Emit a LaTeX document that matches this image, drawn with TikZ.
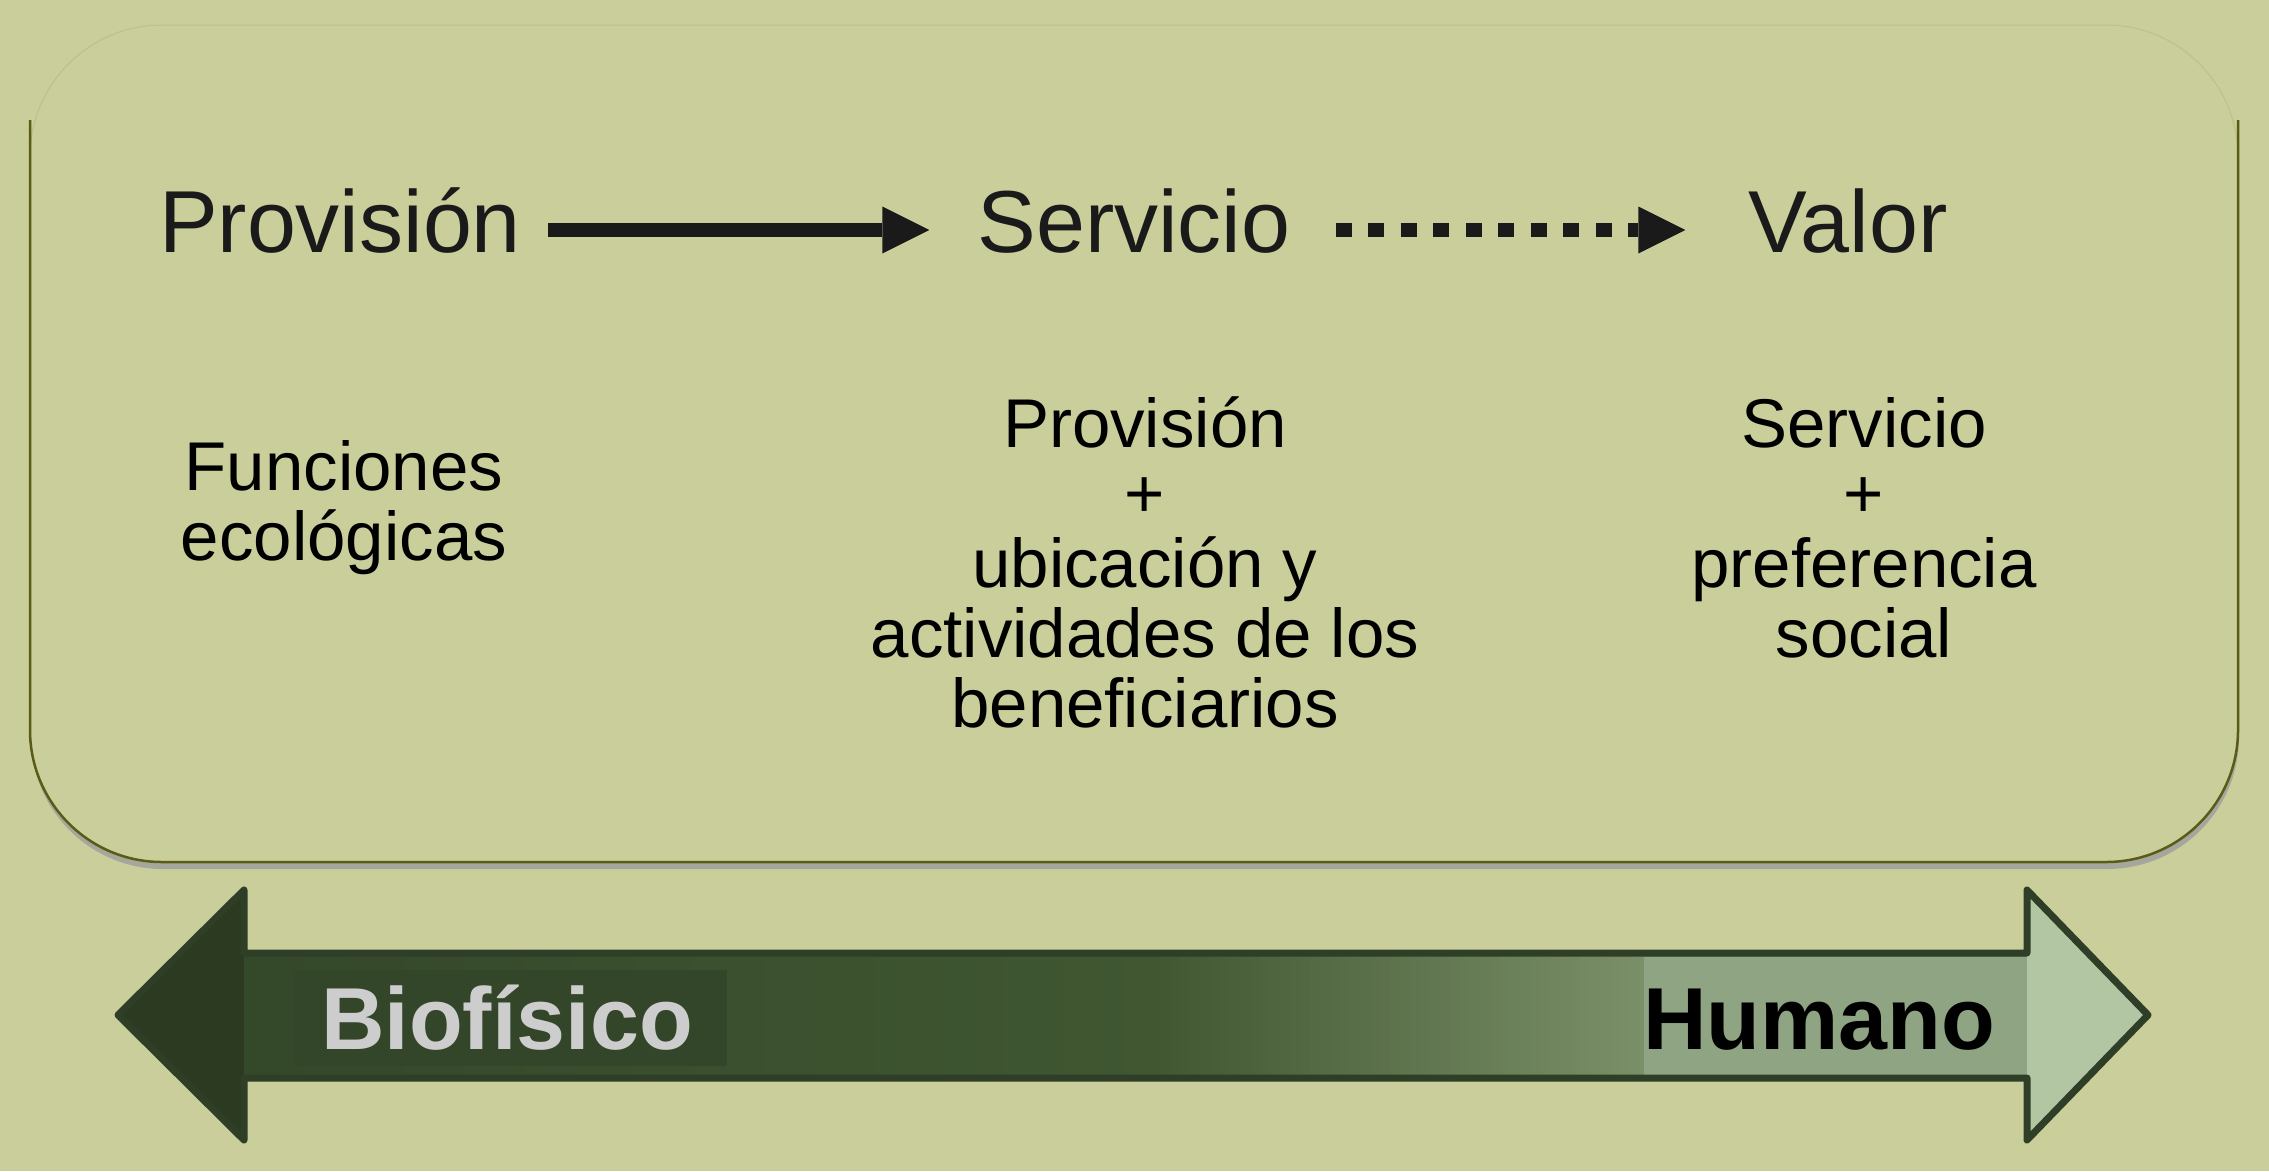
\documentclass[tikz,border=0pt]{standalone}
\usepackage{fontspec}
\setmainfont{Liberation Sans}
\usetikzlibrary{arrows.meta}

\definecolor{fondo}{HTML}{C9CE9B}
\definecolor{borde}{HTML}{5A5C16}
\definecolor{sombra}{HTML}{A6A79C}
\definecolor{tinta}{HTML}{1A1A1A}
\definecolor{contorno}{HTML}{2F3E26}
\definecolor{puntaoscura}{HTML}{2B3A20}
\definecolor{verdeoscuro}{HTML}{34482A}
\definecolor{verdemedio}{HTML}{405732}
\definecolor{verdeclaro}{HTML}{7B9068}
\definecolor{parchebio}{HTML}{33462A}
\definecolor{parchehum}{HTML}{8FA483}
\definecolor{puntaclara}{HTML}{B3C6A3}
\definecolor{grisclaro}{HTML}{CDCDCD}

\begin{document}
\begin{tikzpicture}[x=1pt,y=-1pt,
	titulo/.style={font=\fontsize{88}{88}\selectfont,text=tinta,inner sep=0pt,anchor=base},
	desc/.style={font=\fontsize{69}{70}\selectfont,align=center,inner sep=0pt,anchor=base},
	flecha/.style={draw=tinta,line width=14pt,-{Triangle[length=47pt,width=47pt,line width=0pt]}},
	polo/.style={font=\bfseries\fontsize{88}{88}\selectfont,inner sep=0pt,anchor=base}]
		\useasboundingbox (0,0) rectangle (2269,1171);
		\fill[fondo] (0,0) rectangle (2269,1171);
		\fill[sombra,rounded corners=132pt] (31,32) rectangle (2239,869);
		\fill[fondo,rounded corners=132pt] (30,25) rectangle (2238,862);
		\draw[borde!12!fondo,line width=1pt,rounded corners=132pt] (30,25) rectangle (2238,862);
		\draw[borde,line width=2.5pt,rounded corners=132pt] (30,120) -- (30,862) -- (2238,862) -- (2238,120);

		\node[titulo] (prov) at (340,252) {Provisión};
		\node[titulo] (serv) at (1134,252) {Servicio};
		\node[titulo] (valor) at (1848,252) {Valor};
		\draw[flecha,shorten <=27pt,shorten >=48pt] ([yshift=22pt]prov.base east) -- ([yshift=22pt]serv.base west);
		\draw[flecha,dash pattern=on 16pt off 16.5pt,shorten <=45pt,shorten >=63pt] ([yshift=22pt]serv.base east) -- ([yshift=22pt]valor.base west);

		\node[desc] (funcs) at (344,560) {Funciones\\ecológicas};
		\node[desc] (provdesc) at (1145,727) {Provisión\\+\\ubicación y\\actividades de los\\beneficiarios};
		\node[desc] (servdesc) at (1864,657) {Servicio\\+\\preferencia\\social};

		\draw[contorno,line width=7pt,line join=round,
			path picture={
				\foreach \x in {244,254,...,1144} {
					\pgfmathsetmacro\p{(\x-244)/9.06}
					\fill[verdemedio!\p!verdeoscuro] (\x,880) rectangle (\x+11,1150);
				}
				\foreach \x in {1150,1160,...,1640} {
					\pgfmathsetmacro\p{(\x-1150)/4.94}
					\fill[verdeclaro!\p!verdemedio] (\x,880) rectangle (\x+11,1150);
				}
				\fill[verdeclaro] (1644,880) rectangle (2027,1150);
				\fill[parchehum] (1644,957) rectangle (2031,1075);
				\fill[puntaclara] (2027,880) rectangle (2160,1150);
				\fill[puntaoscura] (100,880) rectangle (244,1150);
				\fill[parchebio] (293,970) rectangle (727,1066);
			}]
			(118,1015) -- (244,890) -- (244,953) -- (2027,953) -- (2027,890) -- (2148,1015)
			-- (2027,1140) -- (2027,1078) -- (244,1078) -- (244,1140) -- cycle;
		\node[polo,text=grisclaro] (bio) at (507,1049) {Biofísico};
		\node[polo,text=black] (hum) at (1819,1049) {Humano};
\end{tikzpicture}
\end{document}
